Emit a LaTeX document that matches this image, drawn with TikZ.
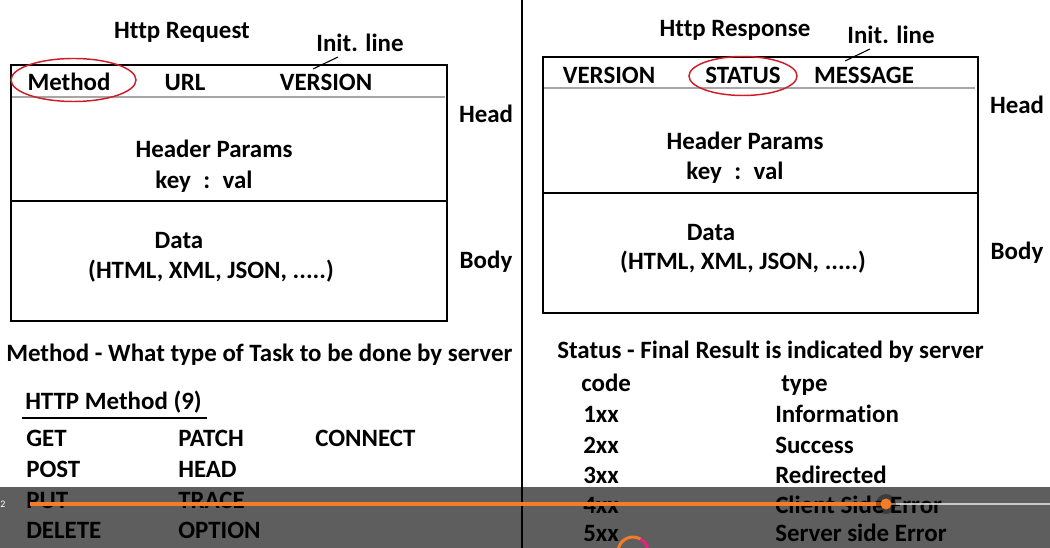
\documentclass[tikz,border=0pt]{standalone}
\usepackage{fontspec}
\setmainfont{Carlito}[Ligatures={NoCommon}]
\definecolor{ovorange}{RGB}{245,124,38}
\definecolor{ellred}{RGB}{205,30,40}
\begin{document}
\begin{tikzpicture}[x=0.75pt,y=-0.75pt,
  txt/.style={font=\fontsize{18.7}{21}\selectfont\bfseries, inner sep=0pt, anchor=base, yshift=-1.5pt},
  ltxt/.style={txt, anchor=base west},
  boxline/.style={line width=2.2pt},
  thinline/.style={line width=0.9pt, gray!70}]
\clip (0,0) rectangle (1050,548);
\useasboundingbox (0,0) rectangle (1050,548);
\fill[white] (0,0) rectangle (1050,548);
% divider
\draw[line width=1.4pt] (522,0) -- (522,548);

% ---------- Request ----------
\node[txt] (reqtitle) at (182,37) {Http Request};
\node[txt] (reqinit) at (360,50) {Init. line};
\draw[line width=0.8pt] (313,69) -- (338,57);
\draw[boxline] (11,65) rectangle (447,321);
\draw[thinline] (12,97) -- (445,97);
\draw[boxline] (11,201) -- (447,201);
\node[txt] (reqmethod) at (69,89) {Method};
\draw[draw=ellred, line width=1.1pt] (73.5,80) ellipse [x radius=62.5, y radius=21.5];
\node[txt] (requrl) at (185,89) {URL};
\node[txt] (reqver) at (326,89) {VERSION};
\node[txt] (reqhp) at (214,156) {Header Params};
\node[txt] (reqkv) at (204,187) {key\hspace{0.5em}:\hspace{0.5em}val};
\node[txt] (reqdata) at (179,247) {Data};
\node[txt] (reqfmt) at (211,277) {(HTML, XML, JSON, .....)};
\node[txt] (reqhead) at (486,121) {Head};
\node[txt] (reqbody) at (486,267) {Body};

% ---------- Response ----------
\node[txt] (restitle) at (735,35) {Http Response};
\node[txt] (resinit) at (891,42) {Init. line};
\draw[line width=0.8pt] (845,61) -- (870,49);
\draw[boxline] (543,57) rectangle (978,313);
\draw[thinline] (544,88) -- (975,88);
\draw[boxline] (543,193) -- (978,193);
\node[txt] (resver) at (609,82) {VERSION};
\node[txt] (resstat) at (743,82) {STATUS};
\draw[draw=ellred, line width=1.1pt] (743,76) ellipse [x radius=54, y radius=19.5];
\node[txt] (resmsg) at (864,82) {MESSAGE};
\node[txt] (reshp) at (745,148) {Header Params};
\node[txt] (reskv) at (735,178) {key\hspace{0.5em}:\hspace{0.5em}val};
\node[txt] (resdata) at (711,239) {Data};
\node[txt] (resfmt) at (743,268) {(HTML, XML, JSON, .....)};
\node[txt] (reshead) at (1017,112) {Head};
\node[txt] (resbody) at (1017,258) {Body};

% ---------- Methods ----------
\node[ltxt] (mdesc) at (6,360) {Method - What type of Task to be done by server};
\node[ltxt] (mtitle) at (25,408) {HTTP Method (9)};
\draw[line width=1.1pt] (22,418) -- (207,418);
\node[ltxt] (mget) at (26,445) {GET};
\node[ltxt] (mpatch) at (178,445) {PATCH};
\node[ltxt] (mconn) at (315,445) {CONNECT};
\node[ltxt] (mpost) at (26,476) {POST};
\node[ltxt] (mhead) at (178,476) {HEAD};
\node[ltxt] (mput) at (26,507) {PUT};
\node[ltxt] (mtrace) at (178,507) {TRACE};
\node[ltxt] (mdel) at (26,537) {DELETE};
\node[ltxt] (mopt) at (178,537) {OPTION};

% ---------- Status ----------
\node[ltxt] (sdesc) at (557,357) {Status - Final Result is indicated by server};
\node[ltxt] (scode) at (581,390) {code};
\node[ltxt] (stype) at (781,390) {type};
\node[ltxt] (s1) at (583,421) {1xx};
\node[ltxt] (t1) at (775,421) {Information};
\node[ltxt] (s2) at (583,452) {2xx};
\node[ltxt] (t2) at (775,452) {Success};
\node[ltxt] (s3) at (583,482) {3xx};
\node[ltxt] (t3) at (775,482) {Redirected};
\node[ltxt] (s4) at (583,512) {4xx};
\node[ltxt] (t4) at (775,512) {Client Side Error};
\node[ltxt] (s5) at (583,540) {5xx};
\node[ltxt] (t5) at (775,540) {Server side Error};

% ---------- video player overlay ----------
\fill[black, opacity=0.63] (0,487) rectangle (1050,548);
\draw[white!80!gray, opacity=0.8, line width=2.2pt] (886,504) -- (1050,504);
\draw[ovorange, line width=2.4pt] (30,504) -- (886,504);
\fill[black, opacity=0.35] (886,504) circle [radius=10];
\fill[ovorange] (886,504) circle [radius=5.5];
\node[font=\fontsize{7.5}{9}\selectfont, text=white, anchor=west, inner sep=0pt] (ptime) at (0,504) {2};
\draw[ovorange, line width=2.2pt] (618,552) arc[start angle=180, end angle=300, radius=15];
\draw[magenta!80!orange, line width=2.2pt] (640.5,539) arc[start angle=300, end angle=360, radius=15];
\end{tikzpicture}
\end{document}
